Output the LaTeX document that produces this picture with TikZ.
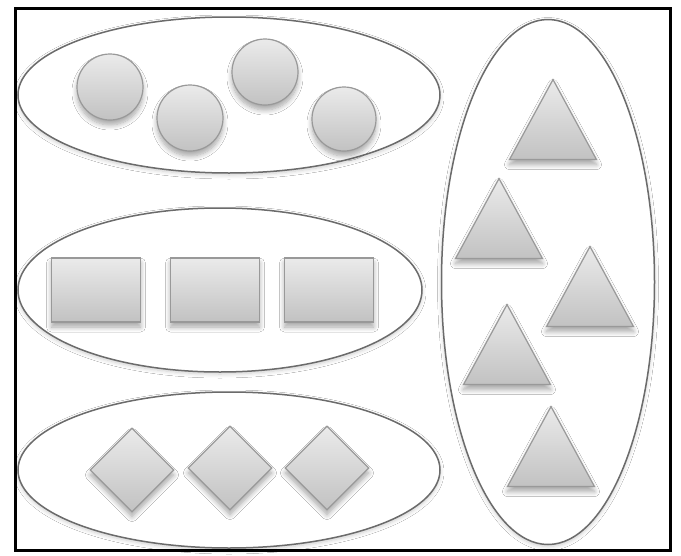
\documentclass[tikz,border=0pt]{standalone}
\usetikzlibrary{shapes.geometric,shadows.blur}
\tikzset{
  grp/.style={draw=black!58, line width=1.5pt, ellipse, inner sep=0pt, fill=white,
    blur shadow={shadow xshift=0pt, shadow yshift=-2pt, shadow blur radius=4pt, shadow blur steps=8, shadow opacity=20}},
  item/.style={draw=black!40, line width=1.2pt, top color=black!8, bottom color=black!24, inner sep=0pt,
    blur shadow={shadow xshift=0pt, shadow yshift=-5pt, shadow blur radius=5pt, shadow blur steps=8, shadow opacity=35}},
  ball/.style={item, circle, minimum size=66pt},
  box/.style={item, rectangle, minimum width=89pt, minimum height=64pt},
  dia/.style={item, diamond, minimum size=84pt},
  tri/.style={item, isosceles triangle, isosceles triangle stretches, shape border rotate=90,
    minimum width=87pt, minimum height=80pt, anchor=apex},
}
\begin{document}
\begin{tikzpicture}[x=1pt,y=-1pt]
\useasboundingbox (0,0) rectangle (681,555);
\fill[white] (0,0) rectangle (681,555);
\node[draw=black, line width=3pt, minimum width=655pt, minimum height=542pt, inner sep=0pt] (frame) at (342.5,279) {};
% groups
\node[grp, minimum width=422pt, minimum height=156pt] (g1) at (229,95) {};
\node[grp, minimum width=404pt, minimum height=164pt] (g2) at (220,290) {};
\node[grp, minimum width=422pt, minimum height=156pt] (g3) at (229,470) {};
\node[grp, minimum width=213pt, minimum height=525pt] (g4) at (548,282) {};
% circles
\node[ball] (c1) at (110,87) {};
\node[ball] (c2) at (190,118) {};
\node[ball] (c3) at (265,72) {};
\node[ball, minimum size=64pt] (c4) at (344,119) {};
% rectangles
\node[box] (r1) at (96,290) {};
\node[box] (r2) at (215,290) {};
\node[box] (r3) at (329,290) {};
% diamonds
\node[dia] (d1) at (132,470) {};
\node[dia] (d2) at (230,468) {};
\node[dia] (d3) at (327,468) {};
% triangles
\node[tri] (t1) at (553,78) {};
\node[tri] (t2) at (499,177) {};
\node[tri] (t3) at (590,245) {};
\node[tri] (t4) at (507,303) {};
\node[tri] (t5) at (551,405) {};
\end{tikzpicture}
\end{document}
